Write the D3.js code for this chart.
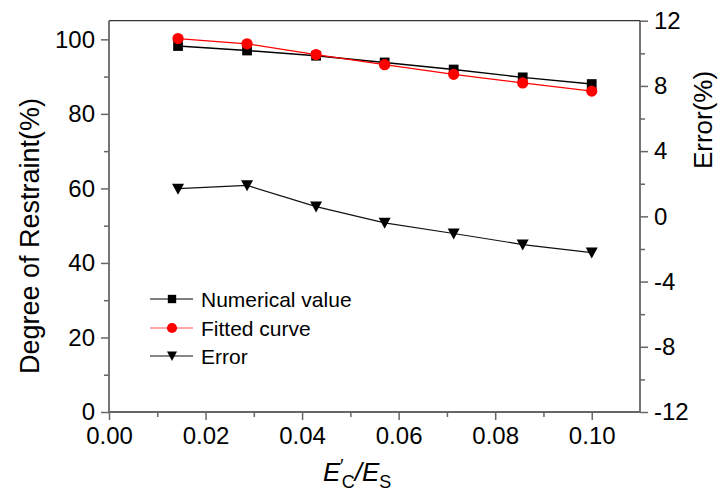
<!DOCTYPE html>
<html><head><meta charset="utf-8">
<script src="https://cdn.jsdelivr.net/npm/d3@7"></script>
<style>body{margin:0;background:#fff}svg{display:block}text{font-family:"Liberation Sans",Arial,sans-serif;fill:#000}</style>
</head><body><svg id="c" width="723" height="499"></svg>
<script>
const ratio = [0.0143, 0.0286, 0.0429, 0.0571, 0.0714, 0.0857, 0.1];
const numerical = [98.2, 97.0, 95.6, 93.8, 91.9, 89.8, 88.0];
const fitted = [100.2, 98.8, 95.9, 93.2, 90.6, 88.3, 86.1];
const errorPct = [1.7, 1.9, 0.6, -0.4, -1.05, -1.73, -2.22];
const xTicks = [0, 0.02, 0.04, 0.06, 0.08, 0.10];
const yLeftTicks = [0, 20, 40, 60, 80, 100];
const yRightTicks = [-12, -8, -4, 0, 4, 8, 12];
const legendLabels = ["Numerical value", "Fitted curve", "Error"];

const svg = d3.select("#c");
const L = 109, R = 640, T = 20.7, B = 412;
const x = d3.scaleLinear().domain([0, 0.11]).range([L, R]);
const yL = d3.scaleLinear().domain([0, 105]).range([B, T]);
const yR = d3.scaleLinear().domain([-12, 12]).range([B, T]);
const axisCol = "#666";

function styleAxis(g){
  g.select(".domain").remove();
  g.selectAll(".tick line").attr("stroke", axisCol).attr("stroke-width", 1.5);
  g.selectAll(".tick text").style("font-size", "24px").attr("fill", "#000");
}
const xMinor = d3.range(0.01, 0.11, 0.02);
const yLMinor = d3.range(10, 105, 20);
const yRMinor = d3.range(-10, 12, 4);

svg.append("g").attr("transform", `translate(0,${B})`)
  .call(d3.axisBottom(x).tickValues(xMinor).tickSize(5).tickFormat(""))
  .call(styleAxis);
svg.append("g").attr("transform", `translate(0,${B})`)
  .call(d3.axisBottom(x).tickValues(xTicks).tickSize(8).tickPadding(7).tickFormat(d => d.toFixed(2)))
  .call(styleAxis);
svg.append("g").attr("transform", `translate(${L},0)`)
  .call(d3.axisLeft(yL).tickValues(yLMinor).tickSize(5).tickFormat(""))
  .call(styleAxis);
svg.append("g").attr("transform", `translate(${L},0)`)
  .call(d3.axisLeft(yL).tickValues(yLeftTicks).tickSize(8).tickPadding(6).tickFormat(d => String(d)))
  .call(styleAxis);
svg.append("g").attr("transform", `translate(${R},0)`)
  .call(d3.axisRight(yR).tickValues(yRMinor).tickSize(5).tickFormat(""))
  .call(styleAxis);
svg.append("g").attr("transform", `translate(${R},0)`)
  .call(d3.axisRight(yR).tickValues(yRightTicks).tickSize(8).tickPadding(6).tickFormat(d => String(d)))
  .call(styleAxis);

svg.append("line").attr("x1", L).attr("x2", R).attr("y1", T).attr("y2", T).attr("stroke", "#333").attr("stroke-width", 1.2);
svg.append("line").attr("x1", L).attr("x2", R).attr("y1", B).attr("y2", B).attr("stroke", axisCol).attr("stroke-width", 1.8);
svg.append("line").attr("x1", L).attr("x2", L).attr("y1", T).attr("y2", B).attr("stroke", axisCol).attr("stroke-width", 1.8);
svg.append("line").attr("x1", R).attr("x2", R).attr("y1", T).attr("y2", B).attr("stroke", axisCol).attr("stroke-width", 1.8);

const sq = d3.symbol().type(d3.symbolSquare).size(95);
const ci = d3.symbol().type(d3.symbolCircle).size(100);
const triDown = "M-6,-5L6,-5L0,6Z";

const series = [
  {vals: numerical, y: yL, color: "#000", w: 1.4, mark: sq(), fill: "#000"},
  {vals: fitted, y: yL, color: "#ff0000", w: 1.2, mark: ci(), fill: "#ff0000"},
  {vals: errorPct, y: yR, color: "#111", w: 1.2, mark: triDown, fill: "#000"}
];
series.forEach(s => {
  const line = d3.line().x((d,i) => x(ratio[i])).y(d => s.y(d));
  svg.append("path").datum(s.vals).attr("d", line).attr("fill", "none")
    .attr("stroke", s.color).attr("stroke-width", s.w);
  svg.append("g").selectAll("path").data(s.vals).join("path")
    .attr("transform", (d,i) => `translate(${x(ratio[i])},${s.y(d)})`)
    .attr("d", s.mark).attr("fill", s.fill);
});

const legY = [299, 328, 356];
const legMarks = [d3.symbol().type(d3.symbolSquare).size(70)(), d3.symbol().type(d3.symbolCircle).size(80)(), "M-5,-4.5L5,-4.5L0,5Z"];
const lg = svg.append("g");
series.forEach((s, i) => {
  const yy = legY[i];
  lg.append("line").attr("x1", 150).attr("x2", 193).attr("y1", yy).attr("y2", yy)
    .attr("stroke", i === 1 ? "#ff5050" : s.color).attr("stroke-width", 1.2);
  lg.append("path").attr("transform", `translate(172,${yy})`).attr("d", legMarks[i]).attr("fill", s.fill);
  lg.append("text").attr("x", 201).attr("y", yy).attr("dy", "0.36em").style("font-size", "21px").text(legendLabels[i]);
});

svg.append("text").attr("transform", "translate(39,236) rotate(-90)").attr("text-anchor", "middle")
  .style("font-size", "27px").text("Degree of Restraint(%)");
svg.append("text").attr("transform", "translate(712,120) rotate(-90)").attr("text-anchor", "middle")
  .style("font-size", "26px").text("Error(%)");

const xl = svg.append("text").attr("x", 323).attr("y", 481).style("font-size", "26px");
xl.append("tspan").style("font-style", "italic").text("E");
xl.append("tspan").style("font-size", "18px").attr("dx", -1).attr("dy", -9).style("font-style", "italic").text("′");
xl.append("tspan").style("font-size", "18px").attr("dx", -1).attr("dy", 16).text("C");
xl.append("tspan").attr("dy", -7).style("font-style", "italic").text("/E");
xl.append("tspan").style("font-size", "18px").attr("dy", 7).text("S");
</script></body></html>
